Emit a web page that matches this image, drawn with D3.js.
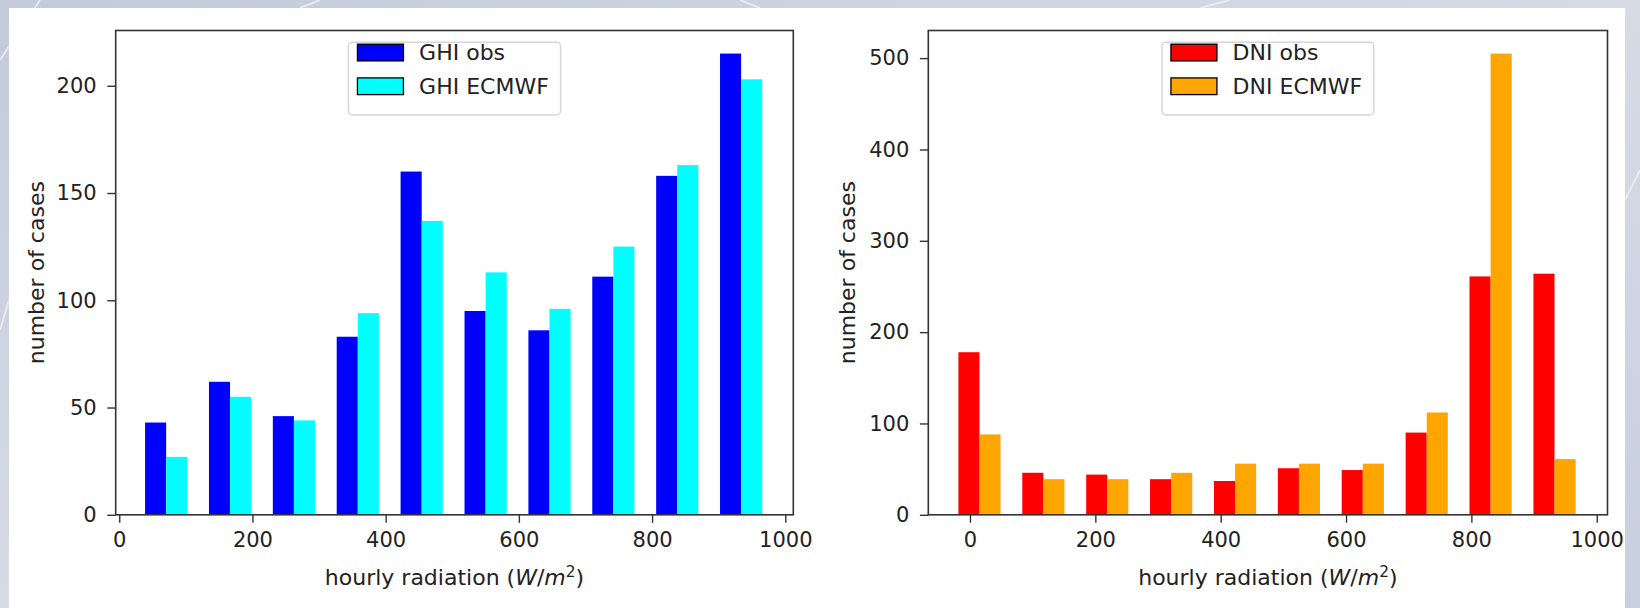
<!DOCTYPE html>
<html>
<head>
<meta charset="utf-8">
<script src="https://cdn.jsdelivr.net/npm/d3@7"></script>
<style>
  body { margin: 0; background: #cfd5e2; }
  svg { display: block; }
  text { font-family: "DejaVu Sans", sans-serif; fill: #222; }
</style>
</head>
<body>
<svg id="fig"></svg>
<script>
var width = 1640;
var height = 608;
const TICK_FONT = 21;
const LABEL_FONT = 22;

// histogram bins (edges)
var ghiBinEdges = [32.1, 128.0, 223.9, 319.8, 415.7, 511.7, 607.6, 703.5, 799.4, 895.3, 991.2];
var dniBinEdges = [-25.6, 76.3, 178.3, 280.2, 382.2, 484.1, 586.0, 688.0, 789.9, 891.9, 993.8];

// counts per bin
var ghiObs    = [43, 62, 46, 83, 160, 95, 86, 111, 158, 215];
var ghiEcmwf  = [27, 55, 44, 94, 137, 113, 96, 125, 163, 203];
var dniObs    = [178, 46, 44, 39, 37, 51, 49, 90, 261, 264];
var dniEcmwf  = [88, 39, 39, 46, 56, 56, 56, 112, 505, 61];

var xTicks = [0, 200, 400, 600, 800, 1000];
var ghiYTicks = [0, 50, 100, 150, 200];
var dniYTicks = [0, 100, 200, 300, 400, 500];

var svg = d3.select("#fig").attr("width", width).attr("height", height);

// background: bluish grey picture with faint streaks, white figure panel
var defs = svg.append("defs");
var grad = defs.append("linearGradient").attr("id", "bg").attr("x1", 0).attr("y1", 0).attr("x2", 1).attr("y2", 1);
grad.append("stop").attr("offset", "0%").attr("stop-color", "#c3cad9");
grad.append("stop").attr("offset", "50%").attr("stop-color", "#d6dbe6");
grad.append("stop").attr("offset", "100%").attr("stop-color", "#c8cfdd");
svg.append("rect").attr("width", width).attr("height", height).attr("fill", "url(#bg)");
var streaks = [[0, 60, 40, 0], [0, 330, 9, 300], [300, 8, 320, 0], [760, 8, 740, 0], [1200, 8, 1230, 0], [1625, 200, 1640, 170]];
svg.selectAll(".streak").data(streaks).enter().append("line")
  .attr("x1", d => d[0]).attr("y1", d => d[1]).attr("x2", d => d[2]).attr("y2", d => d[3])
  .attr("stroke", "#eef0f5").attr("stroke-width", 2).attr("opacity", 0.8);
svg.append("rect").attr("x", 9).attr("y", 8).attr("width", 1616).attr("height", 600).attr("fill", "#ffffff");

function drawPanel(cfg) {
  var g = svg.append("g");
  var x = d3.scaleLinear().domain(cfg.xDomain).range([cfg.left, cfg.right]);
  var y = d3.scaleLinear().domain(cfg.yDomain).range([cfg.bottom, cfg.top]);

  // bars: side-by-side histogram layout (two series per bin)
  var bins = d3.range(cfg.edges.length - 1).map(function(i) {
    return { x0: cfg.edges[i], x1: cfg.edges[i + 1], a: cfg.seriesA[i], b: cfg.seriesB[i] };
  });
  var frac = 0.33;
  g.selectAll(".barA").data(bins).enter().append("rect")
    .attr("x", d => x(d.x0 + (0.4 - frac) * (d.x1 - d.x0)))
    .attr("width", d => x(d.x0 + 0.4 * (d.x1 - d.x0)) - x(d.x0 + (0.4 - frac) * (d.x1 - d.x0)))
    .attr("y", d => y(d.a))
    .attr("height", d => y(0) - y(d.a))
    .attr("fill", cfg.colorA);
  g.selectAll(".barB").data(bins).enter().append("rect")
    .attr("x", d => x(d.x0 + 0.4 * (d.x1 - d.x0)))
    .attr("width", d => x(d.x0 + (0.4 + frac) * (d.x1 - d.x0)) - x(d.x0 + 0.4 * (d.x1 - d.x0)))
    .attr("y", d => y(d.b))
    .attr("height", d => y(0) - y(d.b))
    .attr("fill", cfg.colorB);

  // axes
  var xAxis = d3.axisBottom(x).tickValues(xTicks).tickSize(8).tickPadding(9.5).tickFormat(d3.format("d"));
  var yAxis = d3.axisLeft(y).tickValues(cfg.yTicks).tickSize(8.4).tickPadding(10.6).tickFormat(d3.format("d"));
  var gx = g.append("g").attr("transform", "translate(0," + cfg.bottom + ")").call(xAxis);
  var gy = g.append("g").attr("transform", "translate(" + cfg.left + ",0)").call(yAxis);
  [gx, gy].forEach(function(a) {
    a.select(".domain").remove();
    a.selectAll("line").attr("stroke", "#333").attr("stroke-width", 1.4);
    a.selectAll("text").style("font-size", TICK_FONT + "px").attr("fill", "#222");
  });

  // frame
  g.append("rect")
    .attr("x", cfg.left).attr("y", cfg.top)
    .attr("width", cfg.right - cfg.left).attr("height", cfg.bottom - cfg.top)
    .attr("fill", "none").attr("stroke", "#333").attr("stroke-width", 1.6);

  // axis labels
  var cx = (cfg.left + cfg.right) / 2;
  var xl = g.append("text").attr("x", cx).attr("y", 585).attr("text-anchor", "middle").style("font-size", LABEL_FONT + "px");
  xl.append("tspan").text("hourly radiation (");
  xl.append("tspan").attr("font-style", "italic").text("W");
  xl.append("tspan").text("/");
  xl.append("tspan").attr("font-style", "italic").text("m");
  xl.append("tspan").attr("dy", -8).style("font-size", (LABEL_FONT * 0.7) + "px").text("2");
  xl.append("tspan").attr("dy", 8).text(")");

  var cy = (cfg.top + cfg.bottom) / 2;
  g.append("text").attr("transform", "translate(" + cfg.yLabelX + "," + cy + ") rotate(-90)")
    .attr("text-anchor", "middle").style("font-size", LABEL_FONT + "px").text("number of cases");

  // legend, upper center
  var lg = g.append("g");
  var box = lg.append("rect").attr("rx", 4).attr("fill", "#fff").attr("stroke", "#d6d6d6").attr("stroke-width", 1.5);
  var rows = [[cfg.nameA, cfg.colorA], [cfg.nameB, cfg.colorB]];
  var maxW = 0;
  rows.forEach(function(r, i) {
    var ry = cfg.top + 22 + i * 33.7;
    lg.append("rect").attr("x", 0).attr("y", ry - 8.3).attr("width", 46).attr("height", 16.7)
      .attr("fill", r[1]).attr("stroke", "#000").attr("stroke-width", 1.3);
    var t = lg.append("text").attr("x", 61.7).attr("y", ry).attr("dy", "0.36em").style("font-size", LABEL_FONT + "px").text(r[0]);
    maxW = Math.max(maxW, t.node().getComputedTextLength());
  });
  var boxW = 9 + 61.7 + maxW + 11.7;
  box.attr("x", -9).attr("y", cfg.top + 11.8).attr("width", boxW).attr("height", 72.7);
  lg.attr("transform", "translate(" + (cx - boxW / 2 + 9) + ",0)");
}

drawPanel({
  left: 115.7, right: 793.3, top: 30.5, bottom: 514.8,
  xDomain: [-5.3, 1012], yDomain: [0, 225.75],
  edges: ghiBinEdges, seriesA: ghiObs, seriesB: ghiEcmwf,
  colorA: "#0000ff", colorB: "#00ffff", nameA: "GHI obs", nameB: "GHI ECMWF",
  yTicks: ghiYTicks, yLabelX: 44
});

drawPanel({
  left: 928.3, right: 1607.5, top: 30.5, bottom: 514.8,
  xDomain: [-66.5, 1017.2], yDomain: [0, 530.25],
  edges: dniBinEdges, seriesA: dniObs, seriesB: dniEcmwf,
  colorA: "#ff0000", colorB: "#ffa500", nameA: "DNI obs", nameB: "DNI ECMWF",
  yTicks: dniYTicks, yLabelX: 855
});
</script>
</body>
</html>
